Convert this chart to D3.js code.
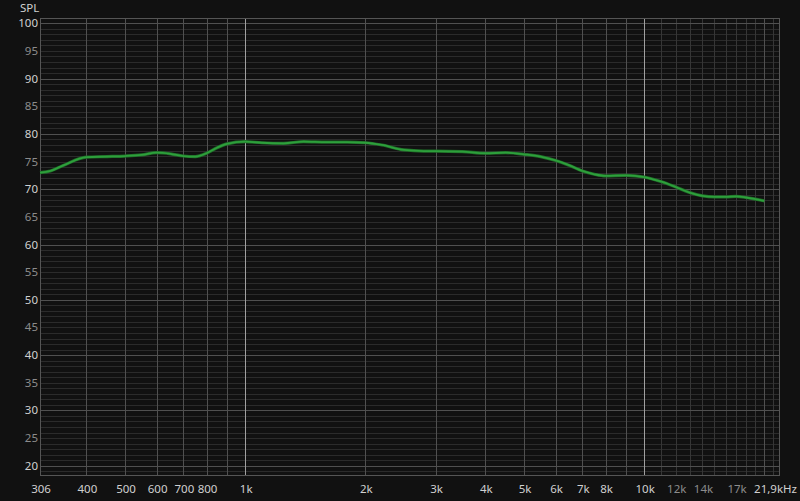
<!DOCTYPE html>
<html><head><meta charset="utf-8">
<script src="https://cdn.jsdelivr.net/npm/d3@7/dist/d3.min.js"></script>
<style>
html,body{margin:0;padding:0;background:#111111;}
svg{display:block;}
text{font-family:"Noto Sans",sans-serif;}
</style></head>
<body>
<svg id="c" width="800" height="501"></svg>
<script>
// ---- data ----
const freqs = [306,325,350,400,450,500,550,600,650,700,750,800,850,900,1000,1100,1250,1400,1600,1800,2000,2200,2500,2800,3000,3500,4000,4500,5000,5500,6000,6500,7000,7500,8000,9000,10000,11000,12000,13000,14000,15000,16000,17000,18000,19000,20000];
const spl   = [73.0,73.3,74.3,75.8,75.9,76.0,76.2,76.6,76.4,76.0,75.9,76.5,77.5,78.2,78.6,78.4,78.3,78.6,78.5,78.5,78.4,78.0,77.1,76.9,76.9,76.8,76.5,76.6,76.3,75.9,75.2,74.3,73.3,72.7,72.4,72.5,72.2,71.4,70.4,69.4,68.8,68.6,68.6,68.7,68.5,68.2,67.9];
const xTickValues = [306,400,500,600,700,800,1000,2000,3000,4000,5000,6000,7000,8000,10000,12000,14000,17000];
const xTickLabels = ["306","400","500","600","700","800","1k","2k","3k","4k","5k","6k","7k","8k","10k","12k","14k","17k"];
const xDimLabels  = ["12k","14k","17k"];
const yTickValues = [100,95,90,85,80,75,70,65,60,55,50,45,40,35,30,25,20];
const xEndLabel = "21,9kHz";
const yTitle = "SPL";

// ---- layout ----
const svg = d3.select("#c");
const L=40, R=780, T=18, B=476;
const x = d3.scaleLog().domain([306,21900]).range([L,R]);
const y = d3.scaleLinear().domain([18.14,100.96]).range([B,T]);

// horizontal grid (1 dB minor, 10 dB major)
const hMinor = d3.range(19,101).filter(v=>v%10!==0);
const hMajor = d3.range(20,101,10);
svg.append("g").selectAll("line").data(hMinor).join("line")
  .attr("x1",L).attr("x2",R).attr("y1",d=>Math.round(y(d))+0.5).attr("y2",d=>Math.round(y(d))+0.5)
  .attr("stroke","#2b2b2b").attr("stroke-width",1);

// vertical grid
const vNormal = [400,500,600,700,800,900,2000,3000,4000,5000,6000,7000,8000,9000,20000];
const vDim = [11000,12000,13000,14000,15000,16000,17000,18000,19000,21000];
const vMajor = [1000,10000];
svg.append("g").selectAll("line").data(vDim).join("line")
  .attr("x1",d=>Math.round(x(d))+0.5).attr("x2",d=>Math.round(x(d))+0.5).attr("y1",T).attr("y2",B)
  .attr("stroke","#363636");
svg.append("g").selectAll("line").data(hMajor).join("line")
  .attr("x1",L).attr("x2",R).attr("y1",d=>Math.round(y(d))+0.5).attr("y2",d=>Math.round(y(d))+0.5)
  .attr("stroke","#505050");
svg.append("g").selectAll("line").data(vNormal).join("line")
  .attr("x1",d=>Math.round(x(d))+0.5).attr("x2",d=>Math.round(x(d))+0.5).attr("y1",T).attr("y2",B)
  .attr("stroke","#505050");
svg.append("g").selectAll("line").data(vMajor).join("line")
  .attr("x1",d=>Math.round(x(d))+0.5).attr("x2",d=>Math.round(x(d))+0.5).attr("y1",T).attr("y2",B)
  .attr("stroke","#a0a0a0");

// frame
svg.append("rect").attr("x",L+0.5).attr("y",T+0.5).attr("width",R-L-1).attr("height",B-T-1)
  .attr("fill","none").attr("stroke","#555");

// curve
const line = d3.line().x((d,i)=>x(freqs[i])).y(d=>y(d)).curve(d3.curveMonotoneX);
svg.append("path").datum(spl).attr("d",line).attr("fill","none")
  .attr("stroke","#1f6e28").attr("stroke-width",3.2).attr("stroke-linejoin","round");
svg.append("path").datum(spl).attr("d",line).attr("fill","none")
  .attr("stroke","#2ea03c").attr("stroke-width",1.8).attr("stroke-linejoin","round");

// y labels
svg.append("g").selectAll("text").data(yTickValues).join("text")
  .attr("x",38).attr("y",d=>y(d)+4)
  .attr("text-anchor","end").attr("font-size",11.5)
  .attr("fill",d=>d%10===0?"#d0d0d0":"#8c8c8c")
  .text(d=>d);
svg.append("text").attr("x",20).attr("y",12).attr("font-size",11.5).attr("fill","#d0d0d0").text(yTitle);

// x labels
svg.append("g").selectAll("text").data(xTickValues).join("text")
  .attr("x",d=>x(d)+1).attr("y",493)
  .attr("text-anchor","middle").attr("font-size",11.5)
  .attr("fill",(d,i)=>xDimLabels.includes(xTickLabels[i])?"#8c8c8c":"#d0d0d0")
  .text((d,i)=>xTickLabels[i]);
svg.append("text").attr("x",797).attr("y",493).attr("text-anchor","end").attr("font-size",11.5)
  .attr("fill","#d0d0d0").text(xEndLabel);
</script>
</body></html>
